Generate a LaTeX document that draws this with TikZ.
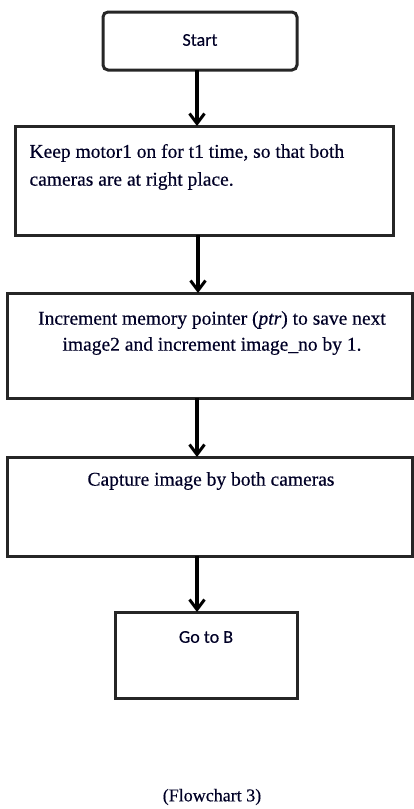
\documentclass[tikz,border=0pt]{standalone}
\usepackage{fontspec}
\setmainfont{Liberation Serif}
\newfontfamily\bodyfont[FakeBold=0.4]{Liberation Serif}
\newfontfamily\labelsans[FakeBold=0.3]{Carlito}
\usetikzlibrary{arrows.meta}
\begin{document}
\begin{tikzpicture}[x=1pt,y=-1pt,
  box/.style={draw=black!85, line width=3pt, inner sep=0pt},
  flow/.style={draw=black, line width=3.2pt, -{Straight Barb[length=10pt,width=15pt,line width=3pt]}},
  txt/.style={font=\bodyfont\fontsize{19.5}{22}\selectfont, text=black!85!blue}
]
\useasboundingbox (0,0) rectangle (414,809);
% process boxes
\draw[box, rounded corners=5pt] (103,12) rectangle (297,70);
\node (start) at (200,41) [inner sep=0pt, minimum width=194pt, minimum height=58pt] {};
\draw[box] (15,126) rectangle (393,235);
\node (keep) at (204,180.5) [inner sep=0pt, minimum width=378pt, minimum height=109pt] {};
\draw[box] (7,293) rectangle (412,398);
\node (incr) at (209.5,345.5) [inner sep=0pt, minimum width=405pt, minimum height=105pt] {};
\draw[box] (7,457) rectangle (412,556);
\node (capt) at (209.5,506.5) [inner sep=0pt, minimum width=405pt, minimum height=99pt] {};
\draw[box] (115,612) rectangle (297,698);
\node (goto) at (206,655) [inner sep=0pt, minimum width=182pt, minimum height=86pt] {};
% texts
\node[txt, font=\labelsans\fontsize{18}{21}\selectfont] at (200,40) {Start};
\node[txt, anchor=west] at (26,153) {Keep motor1 on for t1 time, so that both};
\node[txt, anchor=west] at (26,181) {cameras are at right place.};
\node[txt] at (212,320) {Increment memory pointer (\textit{ptr}) to save next};
\node[txt] at (212,346) {image2 and increment image\_no by 1.};
\node[txt] at (211,481) {Capture image by both cameras};
\node[txt, font=\labelsans\fontsize{18}{21}\selectfont] at (206,637) {Go to B};
\node[txt, font=\bodyfont\fontsize{18}{21}\selectfont] (cap) at (212,797) {(Flowchart 3)};
% connectors
\draw[flow] (197,70) -- (197,126);
\draw[flow] (198,235) -- (198,293);
\draw[flow] (197,398) -- (197,457);
\draw[flow] (197,556) -- (197,612);
\end{tikzpicture}
\end{document}
